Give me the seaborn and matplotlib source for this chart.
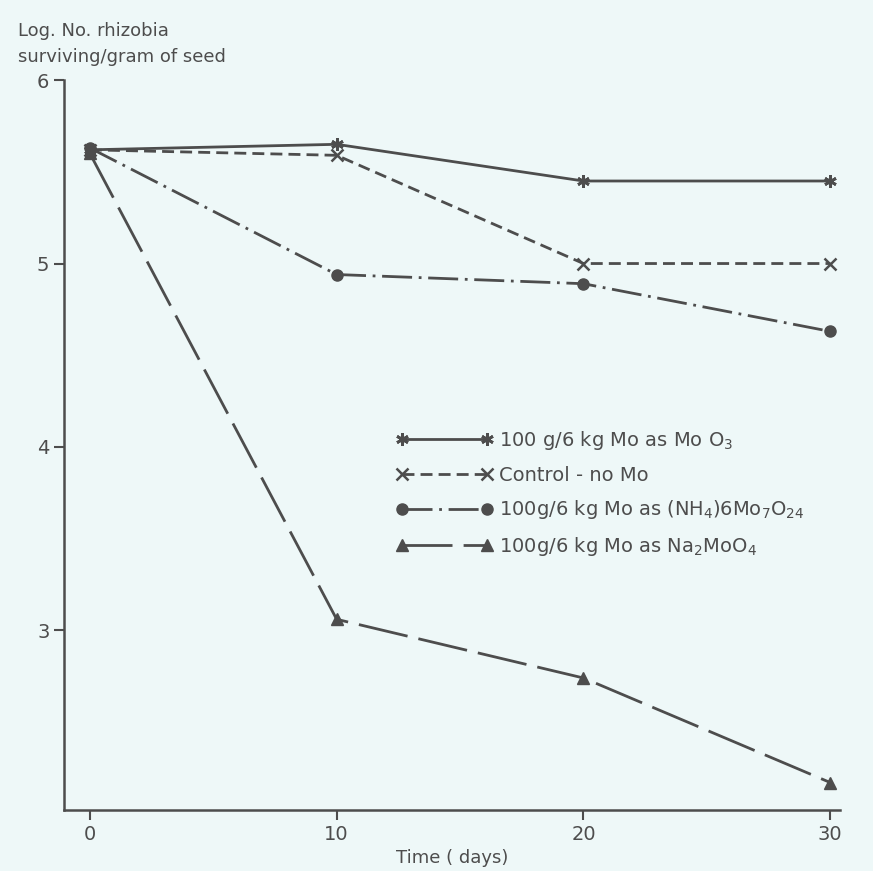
import pandas as pd
import matplotlib.pyplot as plt
import seaborn as sns

# data
days = [0, 10, 20, 30]
moo3 = [5.62, 5.65, 5.45, 5.45]
control = [5.62, 5.59, 5.00, 5.00]
nh4 = [5.63, 4.94, 4.89, 4.63]
na2moo4 = [5.60, 3.06, 2.74, 2.17]

labels = [
    "100 g/6 kg Mo as Mo O$_3$",
    "Control - no Mo",
    "100g/6 kg Mo as (NH$_4$)6Mo$_7$O$_{24}$",
    "100g/6 kg Mo as Na$_2$MoO$_4$",
]
series = [moo3, control, nh4, na2moo4]

df = pd.concat(
    [pd.DataFrame({"Day": days, "Log": vals, "Treatment": lab}) for lab, vals in zip(labels, series)],
    ignore_index=True,
)

ink = "#4d4d4d"
bg = "#eef8f8"

sns.set_style("ticks")
plt.rcParams["font.family"] = ["DejaVu Sans"]
plt.rcParams["mathtext.fontset"] = "dejavusans"
plt.rcParams["text.color"] = ink
plt.rcParams["axes.labelcolor"] = ink
plt.rcParams["axes.edgecolor"] = ink
plt.rcParams["xtick.color"] = ink
plt.rcParams["ytick.color"] = ink

fig = plt.figure(figsize=(8.73, 8.71), dpi=100, facecolor=bg)
ax = fig.add_axes([0.0733, 0.070, 0.889, 0.838], facecolor=bg)

styles = {
    labels[0]: dict(linestyle="-", marker=(6, 2, 0), markersize=9, mew=2),
    labels[1]: dict(linestyle=(0, (4.3, 2.2)), marker="x", markersize=8, mew=1.8),
    labels[2]: dict(linestyle=(0, (10.8, 2.4, 1, 2.4)), marker="o", markersize=8, mew=1),
    labels[3]: dict(linestyle=(0, (18, 4)), marker="^", markersize=8, mew=1),
}

for lab in labels:
    sub = df[df["Treatment"] == lab]
    sns.lineplot(data=sub, x="Day", y="Log", ax=ax, color=ink, lw=2,
                 markeredgecolor=ink, markerfacecolor=ink, label=lab, **styles[lab])

ax.set_xlim(-1.05, 30.4)
ax.set_ylim(2.02, 6.0)
ax.set_xticks([0, 10, 20, 30])
ax.set_yticks([3, 4, 5, 6])
ax.tick_params(labelsize=14, length=7, width=1.5, direction="out")
for s in ["top", "right"]:
    ax.spines[s].set_visible(False)
for s in ["left", "bottom"]:
    ax.spines[s].set_linewidth(1.8)

ax.set_xlabel("Time ( days)", fontsize=13, labelpad=4)
ax.set_ylabel("")
fig.text(0.021, 0.975, "Log. No. rhizobia", fontsize=13, va="top")
fig.text(0.021, 0.945, "surviving/gram of seed", fontsize=13, va="top")

ax.legend(loc="upper left", bbox_to_anchor=(0.415, 0.535), frameon=False,
          numpoints=2, handlelength=5.0, fontsize=14, labelspacing=0.7,
          borderpad=0, handletextpad=0.3)

fig.savefig("out.png", dpi=100, facecolor=bg)
